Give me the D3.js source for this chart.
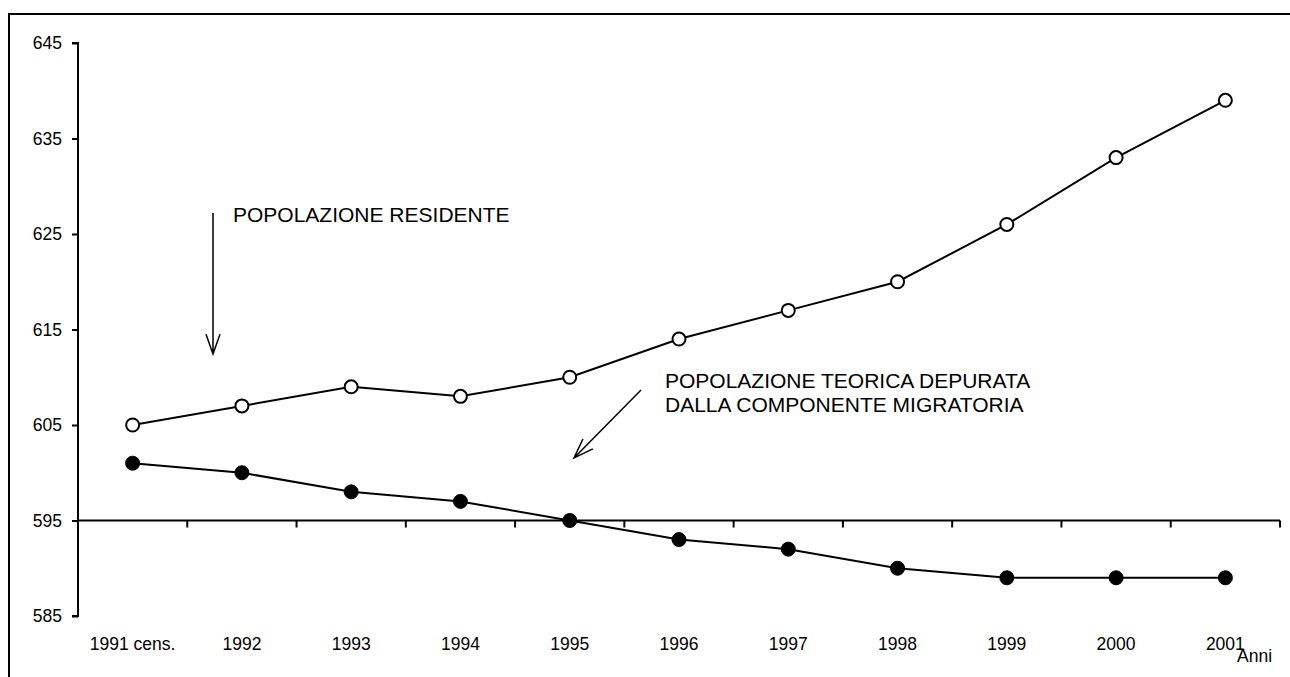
<!DOCTYPE html>
<html>
<head>
<meta charset="utf-8">
<script src="https://cdn.jsdelivr.net/npm/d3@7"></script>
<style>
  body { margin: 0; background: #fff; }
  svg { display: block; font-family: Arial, "Liberation Sans", sans-serif; }
</style>
</head>
<body>
<svg id="chart" width="1290" height="677"></svg>
<script>
  // categories and series
  var categories = ['1991 cens.', '1992', '1993', '1994', '1995', '1996', '1997', '1998', '1999', '2000', '2001'];
  var residente = [605, 607, 609, 608, 610, 614, 617, 620, 626, 633, 639];
  var teorica = [601, 600, 598, 597, 595, 593, 592, 590, 589, 589, 589];
  var yTicks = [585, 595, 605, 615, 625, 635, 645];

  var svg = d3.select('#chart');

  // outer frame (top and left edges visible)
  svg.append('path')
    .attr('d', 'M9,677 V14 H1290')
    .attr('fill', 'none')
    .attr('stroke', '#000')
    .attr('stroke-width', 2);

  var x = d3.scaleBand()
    .domain(categories)
    .range([78, 1280]);

  var y = d3.scaleLinear()
    .domain([585, 645])
    .range([616, 43]);

  // y axis
  var yAxis = svg.append('g')
    .attr('transform', 'translate(78,0)')
    .call(d3.axisLeft(y).tickValues(yTicks).tickSize(6).tickPadding(10));
  yAxis.select('.domain').attr('stroke-width', 2).attr('d', 'M-6,' + y(645) + 'H0V' + y(585) + 'H-6');
  yAxis.selectAll('.tick line').attr('stroke-width', 2);
  yAxis.selectAll('.tick text')
    .style('font-size', '17.5px')
    .style('font-family', 'Arial, "Liberation Sans", sans-serif')
    .attr('fill', '#000');

  // x axis crossing at 595, ticks between categories
  var xLine = svg.append('g')
    .attr('transform', 'translate(0,' + y(595) + ')');
  xLine.append('line')
    .attr('x1', 78).attr('x2', 1280)
    .attr('stroke', '#000').attr('stroke-width', 2);
  var bounds = categories.map(function(c) { return x(c); }).concat([x.range()[1]]);
  xLine.selectAll('line.tick')
    .data(bounds)
    .enter().append('line')
    .attr('class', 'tick')
    .attr('x1', function(d) { return d; })
    .attr('x2', function(d) { return d; })
    .attr('y1', 0).attr('y2', 7)
    .attr('stroke', '#000').attr('stroke-width', 2);

  // category labels along the bottom
  svg.selectAll('text.cat')
    .data(categories)
    .enter().append('text')
    .attr('class', 'cat')
    .attr('x', function(d) { return x(d) + x.bandwidth() / 2; })
    .attr('y', 650)
    .attr('text-anchor', 'middle')
    .style('font-size', '17.5px')
    .text(function(d) { return d; });

  svg.append('text')
    .attr('x', 1237).attr('y', 662)
    .style('font-size', '17.5px')
    .text('Anni');

  var line = d3.line()
    .x(function(d, i) { return x(categories[i]) + x.bandwidth() / 2; })
    .y(function(d) { return y(d); });

  function drawSeries(values, filled) {
    svg.append('path')
      .datum(values)
      .attr('d', line)
      .attr('fill', 'none')
      .attr('stroke', '#000')
      .attr('stroke-width', 2);
    svg.append('g').selectAll('circle')
      .data(values)
      .enter().append('circle')
      .attr('cx', function(d, i) { return x(categories[i]) + x.bandwidth() / 2; })
      .attr('cy', function(d) { return y(d); })
      .attr('r', filled ? 7 : 6.5)
      .attr('fill', filled ? '#000' : '#fff')
      .attr('stroke', '#000')
      .attr('stroke-width', filled ? 1 : 2);
  }

  drawSeries(residente, false);
  drawSeries(teorica, true);

  // annotations
  function arrow(x1, y1, x2, y2) {
    var a = Math.atan2(y2 - y1, x2 - x1), len = 21, spread = 0.34;
    svg.append('path')
      .attr('d', 'M' + x1 + ',' + y1 + 'L' + x2 + ',' + y2 +
        'M' + (x2 - len * Math.cos(a - spread)) + ',' + (y2 - len * Math.sin(a - spread)) +
        'L' + x2 + ',' + y2 +
        'L' + (x2 - len * Math.cos(a + spread)) + ',' + (y2 - len * Math.sin(a + spread)))
      .attr('fill', 'none')
      .attr('stroke', '#000')
      .attr('stroke-width', 1.5);
  }

  arrow(213, 213, 213, 354);
  arrow(641, 390, 574, 458);

  svg.append('text')
    .attr('x', 233).attr('y', 222)
    .style('font-size', '21px')
    .text('POPOLAZIONE RESIDENTE');

  var t2 = svg.append('text')
    .attr('x', 665).attr('y', 388)
    .style('font-size', '21px');
  t2.append('tspan').attr('x', 665).text('POPOLAZIONE TEORICA DEPURATA');
  t2.append('tspan').attr('x', 665).attr('dy', 23.5).text('DALLA COMPONENTE MIGRATORIA');
</script>
</body>
</html>
